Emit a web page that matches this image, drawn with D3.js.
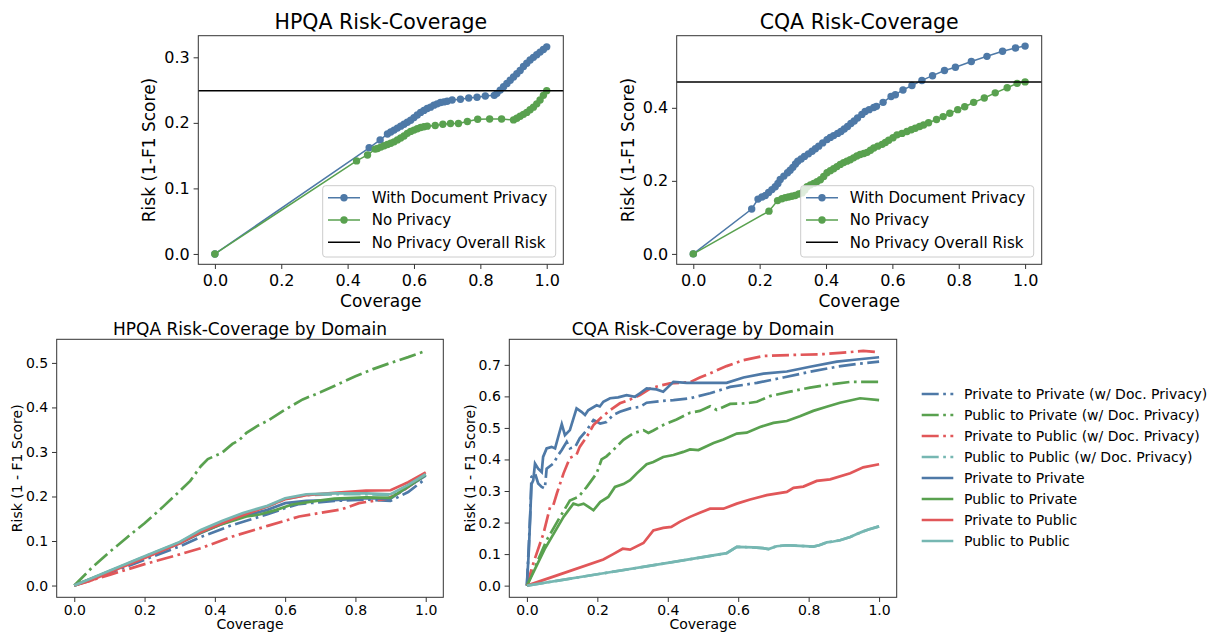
<!DOCTYPE html>
<html>
<head>
<meta charset="utf-8">
<script src="https://cdn.jsdelivr.net/npm/d3@7"></script>
<style>
  html, body { margin: 0; padding: 0; background: #fff; }
  svg { display: block; font-family: "DejaVu Sans", sans-serif; }
</style>
</head>
<body>
<svg id="chart" width="1213" height="633"></svg>
<script>
// ---------- data ----------
const xTicks = [0, 0.2, 0.4, 0.6, 0.8, 1.0];
const hpqaYTicks = [0, 0.1, 0.2, 0.3];
const cqaYTicks = [0, 0.2, 0.4];
const hpqaDomainYTicks = [0, 0.1, 0.2, 0.3, 0.4, 0.5];
const cqaDomainYTicks = [0, 0.1, 0.2, 0.3, 0.4, 0.5, 0.6, 0.7];

const topLegend = ["With Document Privacy", "No Privacy", "No Privacy Overall Risk"];
const domainLegend = [
  "Private to Private (w/ Doc. Privacy)", "Public to Private (w/ Doc. Privacy)",
  "Private to Public (w/ Doc. Privacy)", "Public to Public (w/ Doc. Privacy)",
  "Private to Private", "Public to Private", "Private to Public", "Public to Public"
];

const hpqaOverallRisk = 0.249;
const cqaOverallRisk = 0.471;

const hpqaDocPrivacy = [[0,0],[0.465,0.162],[0.498,0.174],[0.52,0.183],[0.53,0.186],[0.54,0.189],
  [0.55,0.192],[0.56,0.195],[0.57,0.198],[0.58,0.201],[0.59,0.204],[0.60,0.208],[0.61,0.212],
  [0.62,0.216],[0.63,0.219],[0.64,0.222],[0.65,0.224],[0.66,0.227],[0.67,0.229],[0.68,0.231],
  [0.69,0.232],[0.70,0.233],[0.715,0.235],[0.74,0.236],[0.765,0.238],[0.79,0.239],[0.815,0.241],
  [0.842,0.242],[0.85,0.245],[0.86,0.250],[0.87,0.255],[0.88,0.260],[0.89,0.265],[0.90,0.270],
  [0.91,0.275],[0.92,0.280],[0.93,0.286],[0.94,0.291],[0.95,0.296],[0.96,0.300],[0.97,0.304],
  [0.98,0.308],[0.99,0.312],[1.0,0.316]];
const hpqaNoPrivacy = [[0,0],[0.427,0.142],[0.46,0.151],[0.483,0.160],[0.49,0.161],[0.50,0.163],
  [0.51,0.165],[0.52,0.167],[0.53,0.169],[0.54,0.171],[0.55,0.174],[0.56,0.177],[0.57,0.180],
  [0.58,0.184],[0.59,0.187],[0.60,0.189],[0.61,0.191],[0.62,0.193],[0.63,0.194],[0.64,0.195],
  [0.664,0.196],[0.687,0.198],[0.71,0.199],[0.734,0.199],[0.761,0.202],[0.792,0.2055],[0.828,0.206],
  [0.864,0.206],[0.90,0.2045],[0.91,0.207],[0.92,0.210],[0.93,0.213],[0.94,0.216],[0.95,0.220],
  [0.96,0.224],[0.97,0.229],[0.98,0.235],[0.99,0.242],[1.0,0.249]];

const cqaDocPrivacy = [[0,0],[0.176,0.123],[0.195,0.150],[0.207,0.156],[0.217,0.160],[0.227,0.168],
  [0.237,0.176],[0.247,0.184],[0.255,0.193],[0.262,0.204],[0.273,0.213],[0.284,0.222],[0.292,0.229],
  [0.30,0.237],[0.308,0.246],[0.315,0.254],[0.325,0.260],[0.335,0.267],[0.347,0.274],[0.358,0.281],
  [0.368,0.288],[0.378,0.295],[0.39,0.304],[0.403,0.313],[0.413,0.319],[0.423,0.324],[0.435,0.330],
  [0.445,0.335],[0.455,0.342],[0.465,0.349],[0.475,0.357],[0.485,0.364],[0.495,0.372],[0.508,0.382],
  [0.518,0.390],[0.53,0.395],[0.544,0.401],[0.552,0.404],[0.572,0.415],[0.596,0.431],[0.609,0.436],
  [0.632,0.449],[0.659,0.461],[0.689,0.475],[0.721,0.488],[0.757,0.502],[0.79,0.511],[0.838,0.527],
  [0.885,0.541],[0.932,0.555],[0.971,0.564],[1.0,0.569]];
const cqaNoPrivacy = [[0,0],[0.228,0.117],[0.254,0.146],[0.267,0.151],[0.277,0.154],[0.287,0.156],
  [0.297,0.158],[0.307,0.160],[0.318,0.164],[0.328,0.167],[0.336,0.175],[0.343,0.184],[0.353,0.189],
  [0.363,0.193],[0.373,0.198],[0.383,0.203],[0.393,0.212],[0.403,0.222],[0.413,0.228],[0.423,0.233],
  [0.433,0.239],[0.443,0.245],[0.453,0.250],[0.463,0.254],[0.473,0.258],[0.483,0.263],[0.493,0.268],
  [0.503,0.272],[0.514,0.275],[0.524,0.278],[0.534,0.284],[0.544,0.290],[0.556,0.295],[0.569,0.300],
  [0.579,0.305],[0.589,0.311],[0.602,0.318],[0.614,0.326],[0.629,0.330],[0.644,0.335],[0.657,0.340],
  [0.669,0.344],[0.682,0.349],[0.694,0.353],[0.709,0.359],[0.733,0.368],[0.753,0.376],[0.773,0.385],
  [0.797,0.395],[0.818,0.403],[0.845,0.415],[0.877,0.427],[0.91,0.441],[0.946,0.455],[0.976,0.467],
  [1.0,0.471]];

// HPQA by domain
const hpqaPrivPrivDoc = [[0,0],[0.1,0.028],[0.2,0.058],[0.3,0.088],[0.36,0.109],[0.45,0.136],[0.55,0.16],
  [0.6,0.174],[0.64,0.183],[0.74,0.19],[0.83,0.193],[0.9,0.19],[0.95,0.21],[1.0,0.24]];
const hpqaPubPrivDoc = [[0,0],[0.05,0.04],[0.1,0.075],[0.15,0.108],[0.2,0.14],[0.25,0.175],[0.3,0.212],
  [0.33,0.235],[0.36,0.268],[0.38,0.284],[0.42,0.298],[0.45,0.318],[0.47,0.327],[0.49,0.343],[0.52,0.358],
  [0.55,0.37],[0.6,0.395],[0.65,0.418],[0.7,0.434],[0.75,0.452],[0.8,0.47],[0.85,0.486],[0.9,0.5],
  [0.95,0.513],[1.0,0.527]];
const hpqaPrivPubDoc = [[0,0],[0.1,0.024],[0.2,0.048],[0.3,0.07],[0.36,0.084],[0.45,0.11],[0.55,0.134],
  [0.64,0.155],[0.76,0.171],[0.81,0.185],[0.89,0.195],[0.93,0.21],[1.0,0.249]];
const hpqaPubPubDoc = [[0,0],[0.1,0.032],[0.2,0.065],[0.3,0.097],[0.36,0.123],[0.42,0.143],[0.48,0.161],
  [0.55,0.177],[0.6,0.194],[0.66,0.203],[0.74,0.205],[0.83,0.205],[0.9,0.203],[0.95,0.224],[1.0,0.248]];
const hpqaPrivPriv = [[0,0],[0.1,0.031],[0.2,0.063],[0.3,0.095],[0.36,0.118],[0.42,0.138],[0.48,0.156],
  [0.55,0.17],[0.6,0.185],[0.66,0.19],[0.74,0.192],[0.83,0.196],[0.9,0.195],[0.95,0.222],[1.0,0.247]];
const hpqaPubPriv = [[0,0],[0.1,0.032],[0.2,0.064],[0.3,0.096],[0.36,0.119],[0.42,0.138],[0.49,0.155],
  [0.53,0.16],[0.575,0.17],[0.62,0.182],[0.69,0.19],[0.74,0.195],[0.83,0.198],[0.9,0.197],[0.95,0.222],
  [1.0,0.249]];
const hpqaPrivPub = [[0,0],[0.05,0.012],[0.1,0.03],[0.2,0.062],[0.3,0.095],[0.36,0.12],[0.42,0.14],
  [0.48,0.158],[0.55,0.178],[0.6,0.194],[0.66,0.203],[0.74,0.208],[0.83,0.213],[0.9,0.214],[0.95,0.232],
  [1.0,0.254]];
const hpqaPubPub = [[0,0],[0.1,0.033],[0.2,0.066],[0.3,0.098],[0.36,0.125],[0.42,0.145],[0.48,0.163],
  [0.55,0.179],[0.6,0.196],[0.66,0.205],[0.74,0.207],[0.83,0.207],[0.9,0.205],[0.95,0.226],[1.0,0.25]];

// CQA by domain
const cqaPrivPrivDoc = [[0,0],[0.005,0.12],[0.0095,0.229],[0.013,0.345],[0.023,0.356],[0.032,0.324],
  [0.042,0.313],[0.051,0.308],[0.056,0.371],[0.075,0.387],[0.089,0.414],[0.099,0.43],[0.113,0.456],
  [0.122,0.435],[0.137,0.44],[0.15,0.467],[0.17,0.493],[0.189,0.525],[0.208,0.514],[0.226,0.519],
  [0.245,0.541],[0.264,0.551],[0.293,0.562],[0.321,0.567],[0.34,0.58],[0.378,0.585],[0.416,0.588],
  [0.463,0.594],[0.52,0.61],[0.577,0.63],[0.653,0.643],[0.728,0.66],[0.804,0.678],[0.88,0.694],
  [0.937,0.703],[1.0,0.71]];
const cqaPubPrivDoc = [[0,0],[0.056,0.144],[0.09,0.21],[0.122,0.27],[0.146,0.281],[0.17,0.313],
  [0.198,0.356],[0.212,0.4],[0.226,0.41],[0.245,0.43],[0.274,0.462],[0.302,0.483],[0.331,0.493],
  [0.345,0.484],[0.359,0.492],[0.387,0.509],[0.425,0.527],[0.463,0.548],[0.491,0.554],[0.52,0.569],
  [0.539,0.557],[0.577,0.576],[0.624,0.578],[0.653,0.583],[0.69,0.601],[0.747,0.615],[0.804,0.628],
  [0.861,0.638],[0.918,0.646],[1.0,0.646]];
const cqaPrivPubDoc = [[0,0],[0.015,0.06],[0.027,0.1],[0.047,0.165],[0.066,0.25],[0.075,0.255],
  [0.085,0.292],[0.104,0.356],[0.122,0.405],[0.141,0.415],[0.15,0.44],[0.17,0.472],[0.189,0.509],
  [0.208,0.53],[0.236,0.556],[0.264,0.578],[0.293,0.59],[0.321,0.604],[0.35,0.625],[0.378,0.634],
  [0.406,0.641],[0.435,0.643],[0.463,0.645],[0.491,0.66],[0.52,0.673],[0.567,0.696],[0.615,0.715],
  [0.672,0.728],[0.747,0.731],[0.842,0.734],[0.889,0.738],[0.955,0.744],[1.0,0.74]];
const cqaPubPubDoc = [[0,0],[0.2,0.036],[0.4,0.072],[0.567,0.103],[0.596,0.123],[0.62,0.122],
  [0.643,0.121],[0.67,0.119],[0.686,0.116],[0.709,0.125],[0.738,0.128],[0.76,0.127],[0.79,0.125],
  [0.813,0.124],[0.83,0.128],[0.851,0.137],[0.87,0.14],[0.889,0.144],[0.918,0.154],[0.94,0.165],
  [0.955,0.172],[0.97,0.178],[1.0,0.188]];
const cqaPrivPriv = [[0,0],[0.006,0.123],[0.013,0.322],[0.018,0.334],[0.023,0.387],[0.032,0.371],
  [0.042,0.36],[0.046,0.408],[0.056,0.435],[0.07,0.44],[0.08,0.435],[0.089,0.472],[0.099,0.512],
  [0.108,0.477],[0.122,0.493],[0.141,0.562],[0.155,0.551],[0.165,0.541],[0.174,0.556],[0.198,0.572],
  [0.207,0.568],[0.217,0.583],[0.236,0.594],[0.259,0.597],[0.283,0.604],[0.307,0.599],[0.321,0.61],
  [0.34,0.625],[0.368,0.622],[0.387,0.615],[0.416,0.646],[0.454,0.643],[0.567,0.643],[0.615,0.66],
  [0.672,0.672],[0.738,0.679],[0.804,0.694],[0.88,0.71],[0.937,0.717],[1.0,0.724]];
const cqaPubPriv = [[0,0],[0.05,0.115],[0.104,0.218],[0.132,0.26],[0.146,0.255],[0.161,0.26],
  [0.175,0.25],[0.189,0.239],[0.208,0.265],[0.231,0.281],[0.25,0.313],[0.274,0.322],[0.293,0.334],
  [0.312,0.356],[0.34,0.385],[0.359,0.392],[0.387,0.408],[0.416,0.414],[0.444,0.424],[0.463,0.432],
  [0.487,0.43],[0.53,0.452],[0.558,0.463],[0.596,0.482],[0.624,0.485],[0.662,0.503],[0.7,0.516],
  [0.738,0.522],[0.775,0.537],[0.813,0.554],[0.851,0.567],[0.889,0.58],[0.946,0.594],[1.0,0.588]];
const cqaPrivPub = [[0,0],[0.1,0.038],[0.217,0.083],[0.245,0.1],[0.272,0.117],[0.293,0.114],
  [0.331,0.135],[0.359,0.175],[0.387,0.183],[0.41,0.186],[0.435,0.203],[0.463,0.218],[0.491,0.231],
  [0.52,0.244],[0.558,0.244],[0.596,0.26],[0.634,0.273],[0.681,0.287],[0.738,0.297],[0.757,0.31],
  [0.785,0.314],[0.823,0.332],[0.861,0.337],[0.918,0.356],[0.955,0.375],[1.0,0.385]];
const cqaPubPub = [[0,0],[0.2,0.036],[0.4,0.072],[0.567,0.103],[0.596,0.123],[0.62,0.122],
  [0.643,0.121],[0.67,0.119],[0.686,0.116],[0.709,0.125],[0.738,0.128],[0.76,0.127],[0.79,0.125],
  [0.813,0.124],[0.83,0.128],[0.851,0.137],[0.87,0.14],[0.889,0.144],[0.918,0.154],[0.94,0.165],
  [0.955,0.172],[0.97,0.178],[1.0,0.188]];

// ---------- style ----------
const blue = "#4e79a7", green = "#59a14f", red = "#e15759", teal = "#76b7b2";
const domainColors = [blue, green, red, teal, blue, green, red, teal];
const dashDot = "17,4.5,2.7,4.5";
const fmt = d3.format(".1f");

const svg = d3.select("#chart");

function makeAxes(p) {
  const x = d3.scaleLinear().domain([-0.05, 1.05]).range([p.left, p.right]);
  const y = d3.scaleLinear().domain(p.yd).range([p.bottom, p.top]);
  const g = svg.append("g");

  const ax = g.append("g").attr("transform", `translate(0,${p.bottom})`)
    .call(d3.axisBottom(x).tickValues(xTicks).tickFormat(fmt).tickSize(4.7).tickPadding(p.xpad));
  const ay = g.append("g").attr("transform", `translate(${p.left},0)`)
    .call(d3.axisLeft(y).tickValues(p.yticks).tickFormat(fmt).tickSize(4.7).tickPadding(3.8));
  [ax, ay].forEach((a) => {
    a.select(".domain").remove();
    a.selectAll("line").attr("stroke", "#333").attr("stroke-width", 1);
    a.selectAll("text").attr("fill", "#000").attr("font-size", p.tick)
      .attr("font-family", "DejaVu Sans");
  });

  g.append("text").attr("x", (p.left + p.right) / 2).attr("y", p.top - p.titleGap)
    .attr("text-anchor", "middle").attr("font-size", p.titleSize).text(p.title);
  g.append("text").attr("x", (p.left + p.right) / 2).attr("y", p.bottom + p.xlabGap)
    .attr("text-anchor", "middle").attr("font-size", p.label).text("Coverage");
  g.append("text")
    .attr("transform", `translate(${p.left - p.ylabGap},${(p.top + p.bottom) / 2}) rotate(-90)`)
    .attr("text-anchor", "middle").attr("font-size", p.label).text(p.ylabel);

  const plot = g.append("g");
  const frame = () => g.append("rect").attr("x", p.left).attr("y", p.top)
    .attr("width", p.right - p.left).attr("height", p.bottom - p.top)
    .attr("fill", "none").attr("stroke", "#333").attr("stroke-width", 1);
  return { g, plot, x, y, frame };
}

const line = (x, y) => d3.line().x((d) => x(d[0])).y((d) => y(d[1]));

// ---------- top: risk-coverage with markers ----------
function riskPanel(p, doc, noPriv, overall) {
  const a = makeAxes(p);
  const ln = line(a.x, a.y);
  [[doc, blue], [noPriv, green]].forEach(([s, c]) => {
    a.plot.append("path").attr("d", ln(s)).attr("fill", "none")
      .attr("stroke", c).attr("stroke-width", 1.5);
    a.plot.selectAll(null).data(s).join("circle")
      .attr("cx", (d) => a.x(d[0])).attr("cy", (d) => a.y(d[1])).attr("r", 3.7).attr("fill", c);
  });
  a.plot.append("line").attr("x1", p.left).attr("x2", p.right)
    .attr("y1", a.y(overall)).attr("y2", a.y(overall)).attr("stroke", "#000").attr("stroke-width", 1.5);
  a.frame();

  // legend
  const lg = a.g.append("g").attr("transform", `translate(${p.legX},185.7)`);
  lg.append("rect").attr("width", 233).attr("height", 71.3).attr("rx", 3)
    .attr("fill", "#fff").attr("fill-opacity", 0.8).attr("stroke", "#ccc");
  const cols = [blue, green, "#000"];
  topLegend.forEach((t, i) => {
    const yy = 12 + i * 22.3;
    lg.append("line").attr("x1", 5.3).attr("x2", 37.3).attr("y1", yy).attr("y2", yy)
      .attr("stroke", cols[i]).attr("stroke-width", 1.5);
    if (i < 2) lg.append("circle").attr("cx", 21.3).attr("cy", yy).attr("r", 3.7).attr("fill", cols[i]);
    lg.append("text").attr("x", 49).attr("y", yy).attr("dy", "0.36em")
      .attr("font-size", 15).text(t);
  });
}

const bigFonts = { tick: 16, label: 17, titleSize: 20.5, titleGap: 6.4, xlabGap: 42.4, ylabGap: 43, xpad: 5.6 };
riskPanel(Object.assign({ left: 198.3, right: 563.3, top: 35.7, bottom: 264.3, yd: [-0.0158, 0.333],
  yticks: hpqaYTicks, title: "HPQA Risk-Coverage", ylabel: "Risk (1-F1 Score)", legX: 322.7 }, bigFonts),
  hpqaDocPrivacy, hpqaNoPrivacy, hpqaOverallRisk);
riskPanel(Object.assign({ left: 676.7, right: 1041.7, top: 35.7, bottom: 264.3, yd: [-0.0285, 0.5975],
  yticks: cqaYTicks, title: "CQA Risk-Coverage", ylabel: "Risk (1-F1 Score)", legX: 800.7 }, bigFonts),
  cqaDocPrivacy, cqaNoPrivacy, cqaOverallRisk);

// ---------- bottom: by domain ----------
function domainPanel(p, series) {
  const a = makeAxes(p);
  const ln = line(a.x, a.y);
  series.forEach((s, i) => {
    a.plot.append("path").attr("d", ln(s)).attr("fill", "none")
      .attr("stroke", domainColors[i]).attr("stroke-width", 2.7)
      .attr("stroke-dasharray", i < 4 ? dashDot : null);
  });
  a.frame();
}

// x label kept just inside the bottom edge so its descender is not clipped
const smallFonts = { tick: 14, label: 14, titleSize: 17, titleGap: 4.6, xlabGap: 32, ylabGap: 34.5, xpad: 3 };
domainPanel(Object.assign({ left: 56.7, right: 443.3, top: 339.3, bottom: 597.3, yd: [-0.0264, 0.553],
  yticks: hpqaDomainYTicks, title: "HPQA Risk-Coverage by Domain", ylabel: "Risk (1 - F1 Score)" }, smallFonts),
  [hpqaPrivPrivDoc, hpqaPubPrivDoc, hpqaPrivPubDoc, hpqaPubPubDoc, hpqaPrivPriv, hpqaPubPriv, hpqaPrivPub, hpqaPubPub]);
domainPanel(Object.assign({ left: 509.3, right: 896.7, top: 339.3, bottom: 597.3, yd: [-0.037, 0.781],
  yticks: cqaDomainYTicks, title: "CQA Risk-Coverage by Domain", ylabel: "Risk (1 - F1 Score)" }, smallFonts),
  [cqaPrivPrivDoc, cqaPubPrivDoc, cqaPrivPubDoc, cqaPubPubDoc, cqaPrivPriv, cqaPubPriv, cqaPrivPub, cqaPubPub]);

// shared legend for the domain panels
const dl = svg.append("g").attr("transform", "translate(921.7,394)");
domainLegend.forEach((t, i) => {
  const yy = i * 21;
  dl.append("line").attr("x1", 0).attr("x2", 31.6).attr("y1", yy).attr("y2", yy)
    .attr("stroke", domainColors[i]).attr("stroke-width", 2.7)
    .attr("stroke-dasharray", i < 4 ? dashDot : null);
  dl.append("text").attr("x", 42.3).attr("y", yy).attr("dy", "0.36em")
    .attr("font-size", 14).text(t);
});
</script>
</body>
</html>
